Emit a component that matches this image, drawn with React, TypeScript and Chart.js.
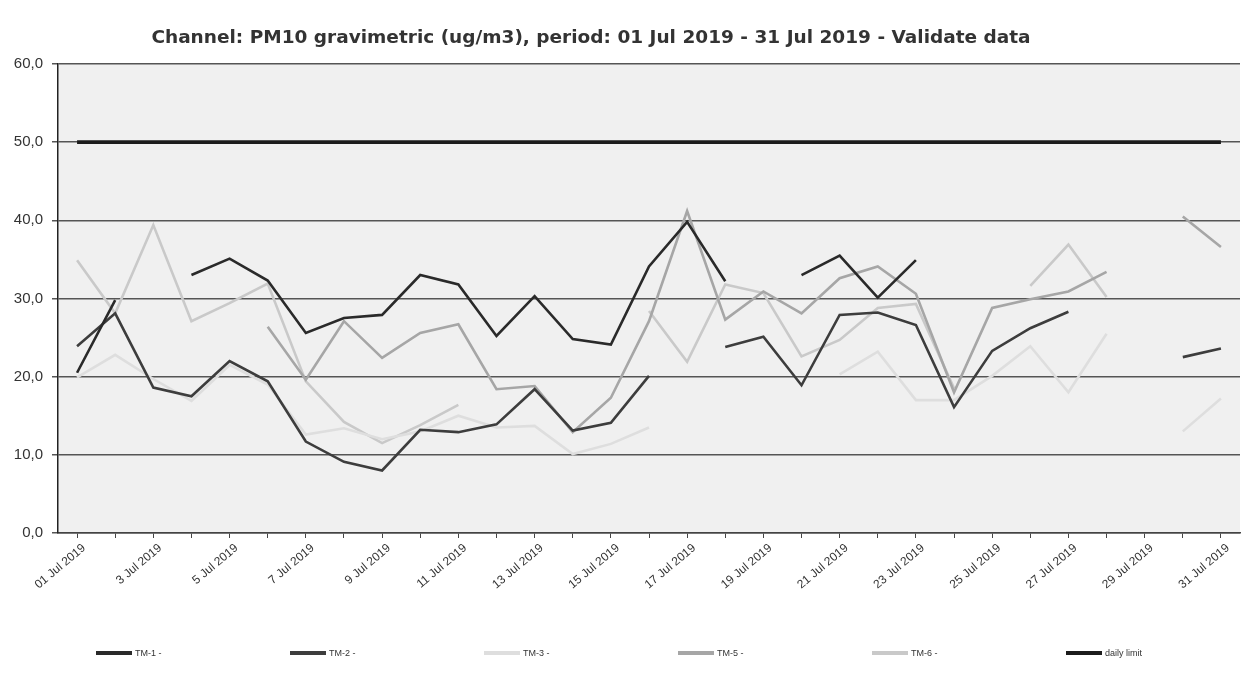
import React, { useEffect, useRef } from 'react';
import { Chart, registerables } from 'chart.js';

Chart.register(...registerables);

const dayLabels = [
  '01 Jul 2019', '2 Jul 2019', '3 Jul 2019', '4 Jul 2019', '5 Jul 2019', '6 Jul 2019', '7 Jul 2019',
  '8 Jul 2019', '9 Jul 2019', '10 Jul 2019', '11 Jul 2019', '12 Jul 2019', '13 Jul 2019', '14 Jul 2019',
  '15 Jul 2019', '16 Jul 2019', '17 Jul 2019', '18 Jul 2019', '19 Jul 2019', '20 Jul 2019', '21 Jul 2019',
  '22 Jul 2019', '23 Jul 2019', '24 Jul 2019', '25 Jul 2019', '26 Jul 2019', '27 Jul 2019', '28 Jul 2019',
  '29 Jul 2019', '30 Jul 2019', '31 Jul 2019',
];

const tm1 = [20.5, 29.8, null, 33.0, 35.1, 32.3, 25.6, 27.5, 27.9, 33.0, 31.8, 25.2, 30.3, 24.8, 24.1, 34.1,
  39.8, 32.2, null, 33.0, 35.5, 30.1, 34.9, null, null, null, null, null, null, null, null];
const tm2 = [23.9, 28.1, 18.6, 17.5, 22.0, 19.4, 11.7, 9.1, 8.0, 13.2, 12.9, 13.9, 18.4, 13.1, 14.1, 20.1,
  null, 23.8, 25.1, 18.9, 27.9, 28.2, 26.6, 16.1, 23.3, 26.2, 28.3, null, null, 22.5, 23.6];
const tm3 = [19.9, 22.8, 19.7, 16.9, 21.5, 19.0, 12.6, 13.4, 12.0, 13.0, 15.0, 13.5, 13.7, 10.1, 11.4, 13.5,
  null, null, null, null, 20.3, 23.2, 17.0, 17.0, 20.1, 23.9, 18.0, 25.5, null, 13.0, 17.2];
const tm5 = [null, null, null, null, null, 26.4, 19.6, 27.1, 22.4, 25.6, 26.7, 18.4, 18.8, 12.9, 17.3, 27.1,
  41.2, 27.3, 30.9, 28.1, 32.6, 34.1, 30.6, 18.0, 28.8, 29.9, 30.9, 33.4, null, 40.5, 36.6];
const tm6 = [34.9, 28.1, 39.4, 27.1, 29.4, 31.9, 19.4, 14.2, 11.5, 13.8, 16.4, null, null, null, null, 28.4,
  21.9, 31.8, 30.7, 22.6, 24.7, 28.8, 29.3, 18.5, null, 31.6, 36.9, 30.2, null, null, null];
const dailyLimit = [50, 50, 50, 50, 50, 50, 50, 50, 50, 50, 50, 50, 50, 50, 50, 50,
  50, 50, 50, 50, 50, 50, 50, 50, 50, 50, 50, 50, 50, 50, 50];

const seriesNames = ['TM-1 -', 'TM-2 -', 'TM-3 -', 'TM-5 -', 'TM-6 -', 'daily limit'];
const seriesColors = ['#2a2a2a', '#3d3d3d', '#dedede', '#a6a6a6', '#c9c9c9', '#1c1c1c'];
const titleText = 'Channel: PM10 gravimetric (ug/m3), period: 01 Jul 2019 - 31 Jul 2019 - Validate data';

const plotBg = {
  id: 'plotBg',
  beforeDraw(chart: any) {
    const { ctx, chartArea } = chart;
    if (!chartArea) return;
    ctx.save();
    ctx.fillStyle = '#f0f0f0';
    ctx.fillRect(chartArea.left, chartArea.top, chartArea.right - chartArea.left, chartArea.bottom - chartArea.top);
    ctx.restore();
  },
};

export default function App() {
  const ref = useRef<HTMLCanvasElement | null>(null);

  useEffect(() => {
    if (!ref.current) return;
    const allData = [tm1, tm2, tm3, tm5, tm6, dailyLimit];
    const chart = new Chart(ref.current, {
      type: 'line',
      data: {
        labels: dayLabels,
        datasets: allData.map((d, i) => ({
          label: seriesNames[i],
          data: d,
          borderColor: seriesColors[i],
          backgroundColor: seriesColors[i],
          borderWidth: i === 5 ? 3.8 : 2.6,
          pointRadius: 0,
          tension: 0,
          spanGaps: false,
          fill: false,
        })),
      },
      options: {
        animation: false,
        responsive: true,
        maintainAspectRatio: false,
        layout: { padding: { left: 0, right: 7, top: 64, bottom: 0 } },
        plugins: {
          title: { display: false },
          legend: { display: false },
          tooltip: { enabled: false },
        },
        scales: {
          x: {
            offset: true,
            grid: { drawOnChartArea: false, tickLength: 5, color: '#444' },
            border: { color: '#444', width: 1.5 },
            ticks: {
              autoSkip: false,
              maxRotation: 40,
              minRotation: 40,
              labelOffset: 7,
              color: '#333',
              font: { family: 'Liberation Sans', size: 12 },
              callback: (_v: any, i: number) => (i % 2 === 0 ? dayLabels[i] : ''),
            },
            afterFit: (s: any) => { s.height = 144; },
          },
          y: {
            min: 0,
            max: 60,
            ticks: {
              stepSize: 10,
              color: '#333',
              padding: 9,
              font: { family: 'Liberation Sans', size: 15 },
              callback: (v: any) => Number(v).toFixed(1).replace('.', ','),
            },
            grid: { color: '#555', lineWidth: 1.5, tickLength: 6 },
            border: { color: '#222', width: 1.5 },
            afterFit: (s: any) => { s.width = 58; },
          },
        },
      },
      plugins: [plotBg],
    } as any);
    return () => chart.destroy();
  }, []);

  return (
    <div style={{ position: 'fixed', left: 0, top: 0, width: 1247, height: 677, background: '#fff' }}>
      <canvas ref={ref} />
      <div
        style={{
          position: 'absolute', left: 0, top: 26, width: 1182, textAlign: 'center',
          fontFamily: 'DejaVu Sans', fontWeight: 'bold', fontSize: 18.5, lineHeight: '22px', color: '#333',
        }}
      >
        {titleText}
      </div>
      <div style={{ position: 'absolute', left: 96, top: 648, display: 'flex', alignItems: 'center' }}>
        {seriesNames.map((name, i) => (
          <div key={name} style={{ width: 194, display: 'flex', alignItems: 'center' }}>
            <span style={{ display: 'inline-block', width: 36, height: 3.5, background: seriesColors[i] }} />
            <span style={{ marginLeft: 3, fontFamily: 'Liberation Sans', fontSize: 9, color: '#333' }}>{name}</span>
          </div>
        ))}
      </div>
    </div>
  );
}
